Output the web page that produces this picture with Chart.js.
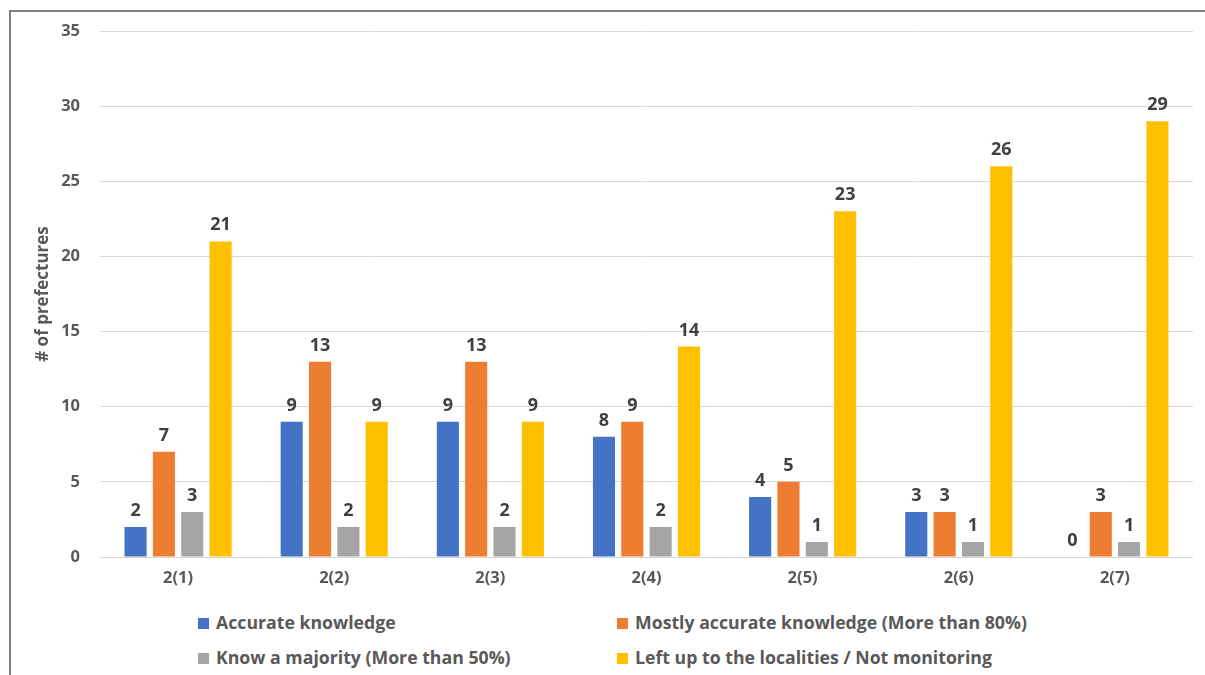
<!DOCTYPE html>
<html>
<head>
<meta charset="utf-8">
<script src="https://cdn.jsdelivr.net/npm/chart.js@4.4.1/dist/chart.umd.min.js"></script>
<style>
  html, body { margin: 0; padding: 0; background: #fff; overflow: hidden; }
  body { width: 1205px; height: 675px; position: relative; }
  #frame {
    position: absolute; left: 9px; top: 10px; width: 1300px; height: 800px;
    border-left: 2px solid #7f7f7f; border-top: 2px solid #7f7f7f;
  }
  #wrap { position: absolute; left: 0; top: 0; width: 1205px; height: 597px; }
  .legend {
    position: absolute; font-family: "Open Sans", sans-serif; font-weight: bold;
    font-size: 17.7px; color: #595959; white-space: nowrap; line-height: 20px;
  }
  .legend i {
    display: inline-block; width: 11px; height: 11px; margin-right: 7px;
    vertical-align: 0px;
  }
</style>
</head>
<body>
<div id="frame"></div>
<div id="wrap"><canvas id="prefChart"></canvas></div>
<div id="legend"></div>
<script>
// Survey answers per question, counted in prefectures
const questions = ['2(1)', '2(2)', '2(3)', '2(4)', '2(5)', '2(6)', '2(7)'];
const accurate = [2, 9, 9, 8, 4, 3, 0];
const mostlyAccurate = [7, 13, 13, 9, 5, 3, 3];
const knowMajority = [3, 2, 2, 2, 1, 1, 1];
const leftToLocalities = [21, 9, 9, 14, 23, 26, 29];
const yTicks = [0, 5, 10, 15, 20, 25, 30, 35];

const seriesNames = [
    'Accurate knowledge',
    'Mostly accurate knowledge (More than 80%)',
    'Know a majority (More than 50%)',
    'Left up to the localities / Not monitoring'
];
const seriesColors = ['#4472C4', '#ED7D31', '#A5A5A5', '#FFC000'];
const seriesData = [accurate, mostlyAccurate, knowMajority, leftToLocalities];

const font = { family: '"Open Sans", sans-serif', weight: 'bold', size: 16.5 };

// Value labels above every bar
const barValues = {
    id: 'barValues',
    afterDatasetsDraw(chart) {
        const ctx = chart.ctx;
        ctx.save();
        ctx.font = 'bold 18px "Open Sans", sans-serif';
        ctx.fillStyle = '#404040';
        ctx.textAlign = 'center';
        ctx.textBaseline = 'alphabetic';
        chart.data.datasets.forEach((ds, i) => {
            chart.getDatasetMeta(i).data.forEach((bar, j) => {
                ctx.fillText(String(ds.data[j]), bar.x, bar.y - 11);
            });
        });
        ctx.restore();
    }
};

const chart = new Chart(document.getElementById('prefChart').getContext('2d'), {
    type: 'bar',
    data: {
        labels: questions,
        datasets: seriesNames.map((name, i) => ({
            label: name,
            data: seriesData[i],
            backgroundColor: seriesColors[i],
            borderWidth: 0,
            categoryPercentage: 0.726,
            barPercentage: 0.78
        }))
    },
    plugins: [barValues],
    options: {
        responsive: true,
        maintainAspectRatio: false,
        animation: false,
        layout: { padding: { left: 29, top: 31, right: 12, bottom: 0 } },
        plugins: {
            legend: { display: false },
            tooltip: { enabled: false }
        },
        scales: {
            x: {
                grid: { display: false, drawTicks: false },
                border: { display: false },
                ticks: { color: '#595959', font: font, padding: 11 },
                afterFit: (scale) => { scale.height = 40; }
            },
            y: {
                min: 0,
                max: 35,
                afterBuildTicks: (scale) => { scale.ticks = yTicks.map(v => ({ value: v })); },
                grid: { color: '#d9d9d9', lineWidth: 1, drawTicks: false },
                border: { display: false },
                ticks: { color: '#595959', font: font, padding: 20 },
                title: {
                    display: true,
                    text: '# of prefectures',
                    color: '#595959',
                    font: { family: '"Open Sans", sans-serif', weight: 'bold', size: 17 }
                },
                afterFit: (scale) => { scale.width = 71; }
            }
        }
    }
});

// Two-column legend under the plot
const legendPos = [[198, 612], [617, 612], [198, 647], [617, 647]];
const legendEl = document.getElementById('legend');
chart.data.datasets.forEach((ds, i) => {
    const item = document.createElement('div');
    item.className = 'legend';
    item.style.left = legendPos[i][0] + 'px';
    item.style.top = legendPos[i][1] + 'px';
    item.innerHTML = '<i style="background:' + ds.backgroundColor + '"></i>' + ds.label;
    legendEl.appendChild(item);
});
</script>
</body>
</html>
